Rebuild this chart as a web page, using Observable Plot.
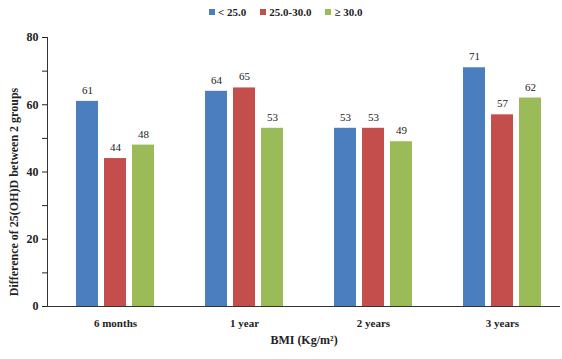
<!DOCTYPE html>
<html>
<head>
<meta charset="utf-8">
<script src="https://cdn.jsdelivr.net/npm/d3@7"></script>
<script src="https://cdn.jsdelivr.net/npm/@observablehq/plot@0.6"></script>
<style>
  body { margin: 0; background: #fff; width: 562px; height: 359px; overflow: hidden; }
  #legend { height: 24px; display: flex; align-items: center; font-family: "Liberation Serif", serif; font-weight: bold; font-size: 11px; color: #222; padding-left: 209px; box-sizing: border-box; }
  #legend span.item { display: inline-flex; align-items: center; margin-right: 14px; }
  #legend span.sw { width: 6px; height: 6px; display: inline-block; margin-right: 3px; }
</style>
</head>
<body>
<div id="legend"></div>
<div id="chart"></div>
<script>
const groups = ["6 months", "1 year", "2 years", "3 years"];
const series = ["< 25.0", "25.0-30.0", "≥ 30.0"];
const colors = ["#4a7ebf", "#c34e4b", "#9bbb59"];
const valuesLow = [61, 64, 53, 71];
const valuesMid = [44, 65, 53, 57];
const valuesHigh = [48, 53, 49, 62];
const yTicks = [0, 10, 20, 30, 40, 50, 60, 70, 80];

const allValues = [valuesLow, valuesMid, valuesHigh];
const data = [];
series.forEach((s, si) => groups.forEach((g, gi) => data.push({group: g, series: s, si, value: allValues[si][gi]})));

const legend = document.getElementById("legend");
series.forEach((s, i) => {
  const it = document.createElement("span");
  it.className = "item";
  it.innerHTML = `<span class="sw" style="background:${colors[i]}"></span>${s}`;
  legend.appendChild(it);
});

const offsets = [-28, 0, 28];
const marks = [];
series.forEach((s, si) => {
  const d = data.filter(r => r.si === si);
  marks.push(Plot.barY(d, {x: "group", y: "value", fill: colors[si], dx: offsets[si]}));
  marks.push(Plot.text(d, {x: "group", y: "value", text: d => String(d.value), dx: offsets[si], dy: -11, fontSize: 11, fill: "#222"}));
});

const plot = Plot.plot({
  width: 562,
  height: 335,
  marginLeft: 47,
  marginRight: 2,
  marginTop: 13,
  marginBottom: 53,
  style: {fontFamily: "Liberation Serif, serif", fontSize: "11px", color: "#222", background: "#fff"},
  x: {domain: groups, paddingInner: 0.83, paddingOuter: 0.393, align: 0.55, label: null},
  y: {domain: [0, 80], label: null},
  marks: [
    ...marks,
    Plot.axisY({ticks: yTicks, tickFormat: d => d % 20 === 0 ? String(d) : "", tickSize: 5, tickPadding: 4, label: null, fontWeight: "bold", fontSize: 12}),
    Plot.axisX({tickSize: 0, tickPadding: 13, label: null, fontWeight: "bold", fontSize: 11}),
    Plot.ruleY([0], {stroke: "#333"}),
    Plot.frame({anchor: "left", stroke: "#333"}),
    Plot.text(["Difference of 25(OH)D between 2 groups"], {frameAnchor: "left", textAnchor: "middle", dx: -33, dy: 20, rotate: -90, fontSize: 12, fontWeight: "bold", fill: "#222"}),
    Plot.text(["BMI (Kg/m²)"], {frameAnchor: "bottom", dy: 37, fontSize: 12, fontWeight: "bold", fill: "#222"})
  ]
});
document.getElementById("chart").appendChild(plot);
</script>
</body>
</html>
